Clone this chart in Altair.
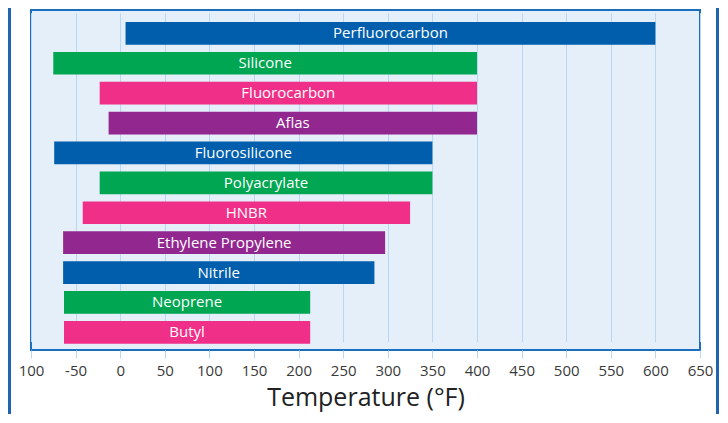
import altair as alt
import pandas as pd

materials = ["Perfluorocarbon", "Silicone", "Fluorocarbon", "Aflas", "Fluorosilicone",
             "Polyacrylate", "HNBR", "Ethylene Propylene", "Nitrile", "Neoprene", "Butyl"]
low_f = [6, -75, -23, -13, -74, -23, -42, -64, -64, -63, -63]
high_f = [600, 400, 400, 400, 350, 350, 325, 297, 285, 213, 213]
colors = ["#005eac", "#00a651", "#ef2f88", "#92278f", "#005eac", "#00a651",
          "#ef2f88", "#92278f", "#005eac", "#00a651", "#ef2f88"]
tick_values = list(range(-100, 651, 50))

df = pd.DataFrame({"material": materials, "low": low_f, "high": high_f, "color": colors})
df["mid"] = (df["low"] + df["high"]) / 2

W, H = 669, 340

yscale = alt.Scale(domain=materials, range=[8.4, 337.3], paddingInner=0.24, paddingOuter=0.12)
xscale = alt.Scale(domain=[-100, 650], nice=False, zero=False)

base = alt.Chart(df)

bars = base.mark_bar(cornerRadius=0).encode(
    x=alt.X("low:Q", scale=xscale, axis=alt.Axis(
        values=tick_values,
        labelExpr="datum.value == -100 ? '100' : toString(datum.value)",
        labelFlush=False, labelOverlap=False,
        title="Temperature (°F)",
        grid=True, gridColor="#b9d7f2", gridWidth=1,
        ticks=True, tickColor="#b9d7f2", tickSize=8, tickWidth=1,
        domain=False,
        labelFont="Open Sans", labelFontSize=15, labelColor="#3a3a3a", labelPadding=5,
        titleFont="Open Sans", titleFontSize=25, titleFontWeight="normal", titleColor="#222222",
        titlePadding=7,
    )),
    x2="high:Q",
    y=alt.Y("material:N", scale=yscale, axis=None, sort=materials),
    color=alt.Color("color:N", scale=None),
)

labels = base.mark_text(color="white", font="Open Sans", fontSize=15, baseline="middle").encode(
    x=alt.X("mid:Q", scale=xscale),
    y=alt.Y("material:N", scale=yscale, sort=materials),
    text="material:N",
)

frame_df = pd.DataFrame({"k": [0]})
left_frame = alt.Chart(frame_df).mark_rule(color="#1f64ad", strokeWidth=3).encode(
    x=alt.value(-21.5), y=alt.value(-12), y2=alt.value(420)
)
right_frame = alt.Chart(frame_df).mark_rule(color="#1f64ad", strokeWidth=3).encode(
    x=alt.value(686.5), y=alt.value(-12), y2=alt.value(420)
)

chart = alt.layer(bars, labels, left_frame, right_frame).properties(
    width=W, height=H,
    autosize=alt.AutoSizeParams(type="none"),
    padding={"left": 23, "top": 2, "right": 20, "bottom": 64},
    background="white",
).configure_view(
    fill="#e5eff9", stroke="#1a6dbf", strokeWidth=2
)

chart.save("out.html", embed_options={"renderer": "svg", "actions": False})
